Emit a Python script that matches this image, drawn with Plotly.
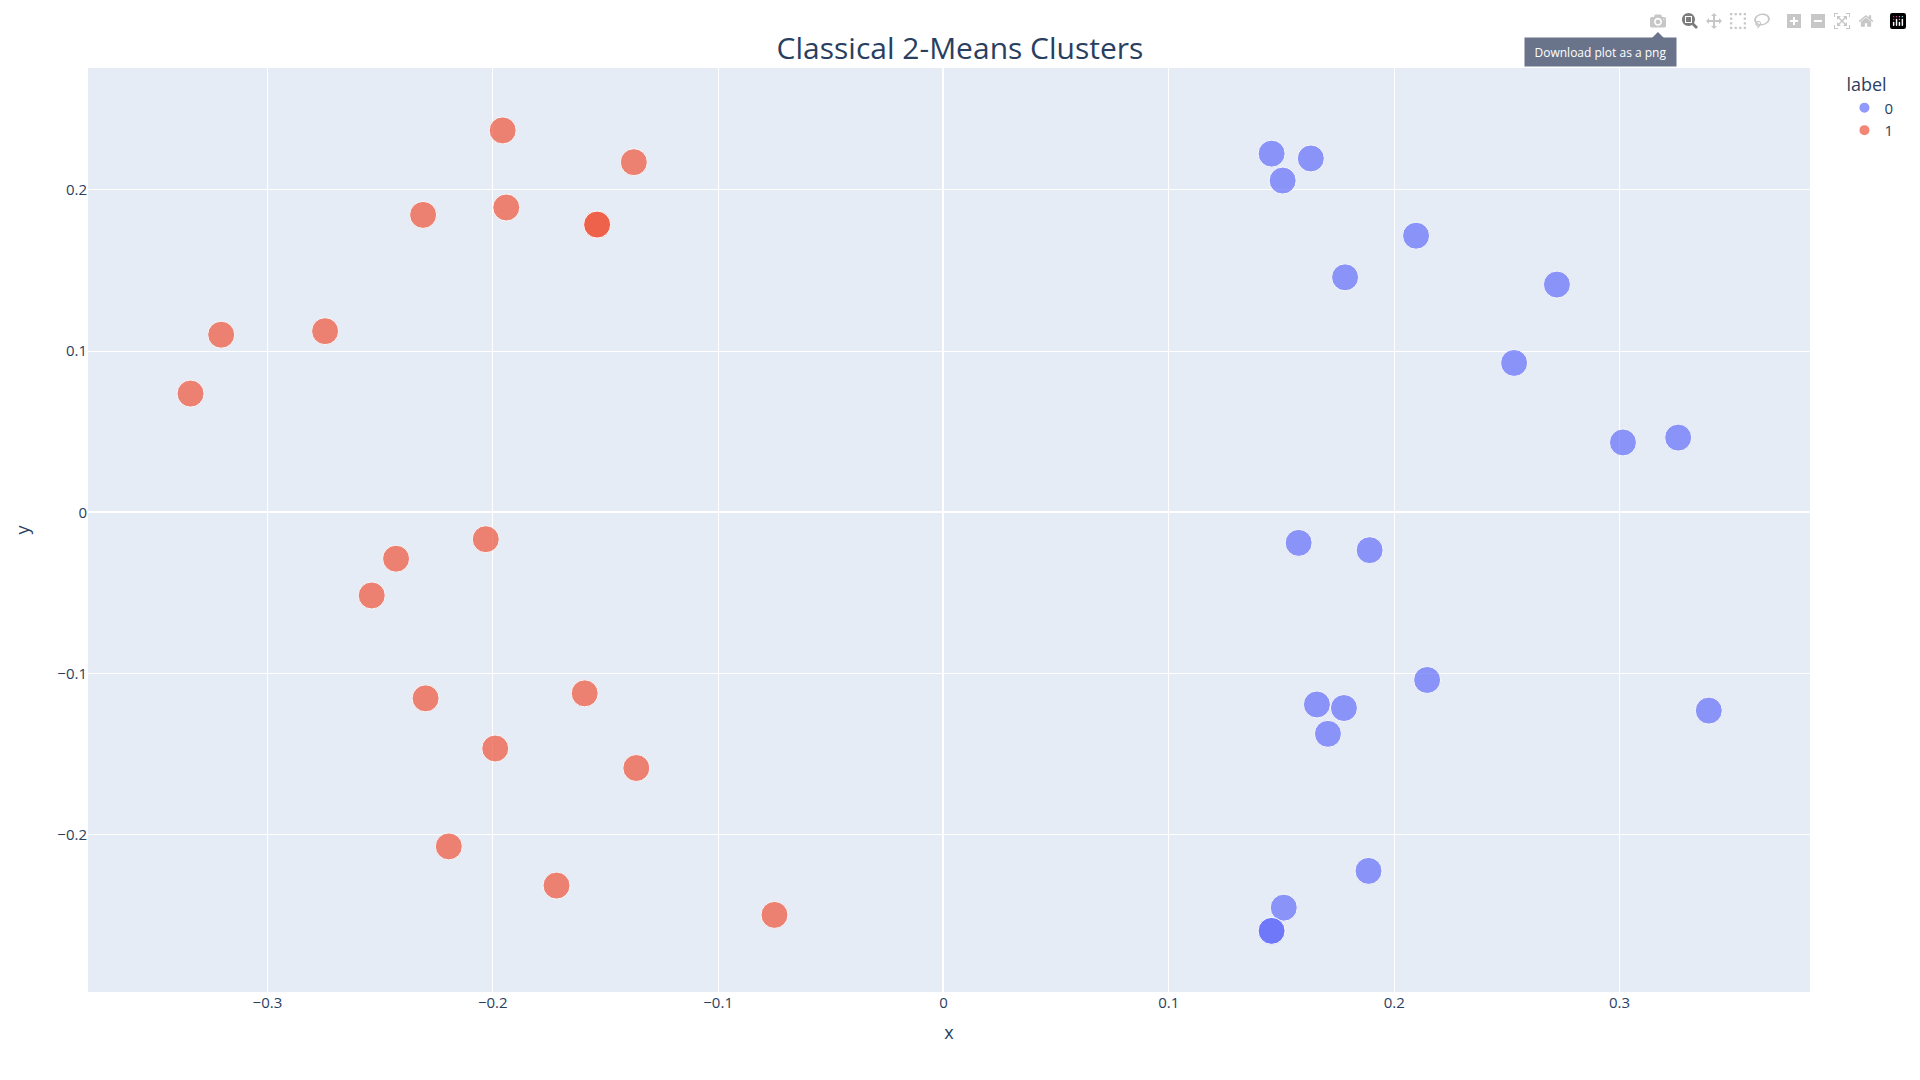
import plotly.graph_objects as go

x0 = [0.1456, 0.1630, 0.1505, 0.2097, 0.1782, 0.2722, 0.2532, 0.3015, 0.3260, 0.1576,
      0.1891, 0.2146, 0.1657, 0.1777, 0.1706, 0.3396, 0.1886, 0.1510, 0.1456, 0.1456]
y0 = [0.2224, 0.2194, 0.2057, 0.1715, 0.1457, 0.1412, 0.0926, 0.0433, 0.0463, -0.0190,
      -0.0235, -0.1040, -0.1192, -0.1214, -0.1374, -0.1230, -0.2224, -0.2452, -0.2596, -0.2596]
x1 = [-0.1956, -0.1374, -0.2309, -0.1940, -0.1537, -0.1537, -0.3205, -0.2744, -0.3341, -0.2031,
      -0.2429, -0.2537, -0.2298, -0.1592, -0.1989, -0.1363, -0.2195, -0.1717, -0.0750]
y1 = [0.2368, 0.2171, 0.1844, 0.1890, 0.1784, 0.1784, 0.1101, 0.1123, 0.0736, -0.0167,
      -0.0288, -0.0516, -0.1154, -0.1123, -0.1465, -0.1586, -0.2072, -0.2315, -0.2497]
names = ["0", "1"]
title_text = "Classical 2-Means Clusters"

fig = go.Figure()
for name, xs, ys, color in [(names[0], x0, y0, "#636efa"), (names[1], x1, y1, "#EF553B")]:
    fig.add_trace(go.Scatter(
        x=xs, y=ys, mode="markers", name=name, legendgroup=name,
        marker=dict(color=color, size=27, opacity=0.7, line=dict(width=1, color="white")),
    ))

fig.update_layout(
    template="plotly",
    title=dict(text=title_text, x=0.5, xanchor="center", y=0.9624, yanchor="middle", font=dict(size=30)),
    font=dict(family="Open Sans", size=15),
    margin=dict(l=80, r=102, t=60, b=80),
    legend=dict(title=dict(text="label", font=dict(size=18)), itemsizing="constant", tracegroupgap=0),
    xaxis=dict(title=dict(text="x", font=dict(size=18)), range=[-0.3796, 0.3845], dtick=0.1),
    yaxis=dict(title=dict(text="y", font=dict(size=18), standoff=23), range=[-0.2975, 0.2755], dtick=0.1),
    dragmode="zoom",
    annotations=[dict(
        text="Download plot as a png", xref="paper", yref="paper", x=0.8784, y=1.0173,
        xanchor="center", yanchor="middle", showarrow=False, width=149, height=26,
        bgcolor="#69738a", font=dict(color="white", size=12),
    )],
    shapes=[dict(
        type="path", xref="paper", yref="paper", layer="above", line=dict(width=0),
        fillcolor="#69738a", path="M 0.9082 1.0325 L 0.9117 1.039 L 0.9152 1.0325 Z",
    )],
)
fig.write_html("out.html", config=dict(displayModeBar=True))
